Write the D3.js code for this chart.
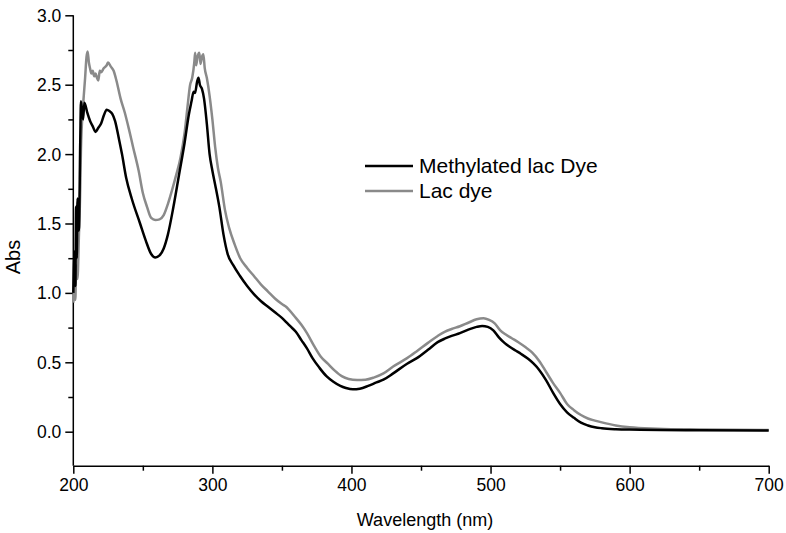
<!DOCTYPE html>
<html>
<head>
<meta charset="utf-8">
<script src="https://cdn.jsdelivr.net/npm/d3@7"></script>
<style>
  body { margin: 0; background: #fff; }
  svg { font-family: "Liberation Sans", Arial, sans-serif; }
</style>
</head>
<body>
<div id="chart"></div>
<script>
// methylated lac dye (black)
var wlMethyl = [200,201,201.5,202,202.5,203,204,205,205.5,207,208,210,212,214,216,218,220,222,224,226,228,230,233,235,238,242,248,252,256,259,262,265,268,272,276,280,283,285,286.5,287.5,289,290,291,292.5,294,296,298,300,302,305,308,311,315,320,325,330,335,340,345,350,354,356,360,364,368,372,377,382,387,392,396,401,406,412,418,423,430,440,447,455,462,467,472,478,484,490,494,498,502,506,510,514,518,522,527,531,535,540,545,550,555,560,565,570,575,580,590,600,650,700];
var absMethyl = [1.00,1.30,1.05,1.62,1.25,1.68,1.45,2.10,2.38,2.25,2.37,2.30,2.24,2.20,2.16,2.19,2.22,2.28,2.32,2.31,2.29,2.24,2.10,2.00,1.83,1.68,1.50,1.38,1.28,1.255,1.27,1.32,1.42,1.62,1.85,2.08,2.28,2.38,2.45,2.44,2.52,2.55,2.50,2.47,2.40,2.22,2.00,1.88,1.78,1.62,1.42,1.28,1.20,1.12,1.05,0.99,0.94,0.90,0.86,0.82,0.78,0.76,0.72,0.66,0.60,0.53,0.46,0.40,0.36,0.33,0.315,0.305,0.31,0.33,0.355,0.375,0.42,0.49,0.53,0.59,0.645,0.67,0.69,0.71,0.735,0.755,0.762,0.755,0.73,0.68,0.64,0.61,0.585,0.56,0.525,0.49,0.445,0.37,0.28,0.20,0.14,0.10,0.065,0.045,0.032,0.025,0.018,0.015,0.010,0.008];

// lac dye (grey)
var wlLac = [200,201,201.5,202,203,204,205,205.5,207,208.5,209.5,210.3,211.2,212,213,214,215,216,217,218,219,220,222,224,225,227,229,231,234,237,240,243,247,250,253,256,259,262,265,268,271,274,277,280,282,284,285.5,287,287.6,288.3,289.3,290.6,291.5,292.5,293.5,294.5,296,298,300,302,304,306,309,312,316,320,325,330,335,340,345,350,353,355,360,364,368,373,378,383,388,393,398,404,410,416,423,430,440,447,455,462,467,472,478,484,490,495,499,503,507,511,515,520,525,530,535,540,545,550,555,560,565,570,575,580,590,600,620,650,700];
var absLac = [0.93,1.05,0.95,1.20,1.10,1.40,1.75,2.03,2.34,2.55,2.70,2.74,2.66,2.62,2.58,2.60,2.56,2.58,2.55,2.53,2.60,2.59,2.62,2.64,2.66,2.63,2.60,2.53,2.40,2.30,2.18,2.05,1.88,1.72,1.62,1.54,1.525,1.53,1.56,1.64,1.74,1.85,1.97,2.15,2.33,2.50,2.55,2.66,2.73,2.64,2.70,2.73,2.65,2.70,2.72,2.62,2.55,2.42,2.25,2.05,1.90,1.80,1.60,1.47,1.35,1.25,1.18,1.12,1.06,1.01,0.96,0.92,0.90,0.88,0.82,0.77,0.71,0.62,0.54,0.49,0.44,0.40,0.38,0.373,0.375,0.39,0.42,0.47,0.53,0.58,0.64,0.69,0.72,0.74,0.76,0.785,0.81,0.817,0.805,0.78,0.73,0.70,0.675,0.645,0.61,0.57,0.51,0.43,0.35,0.28,0.20,0.155,0.12,0.095,0.08,0.067,0.045,0.032,0.022,0.016,0.012];

var xTicks = [200, 300, 400, 500, 600, 700];
var xMinor = [250, 350, 450, 550, 650];
var yTicks = [0, 0.5, 1.0, 1.5, 2.0, 2.5, 3.0];
var yMinor = [0.25, 0.75, 1.25, 1.75, 2.25, 2.75];

var seriesNames = ["Methylated lac Dye", "Lac dye"];
var seriesColors = ["#000000", "#8a8a8a"];

var W = 786, H = 533;
var svg = d3.select("#chart").append("svg")
  .attr("width", W)
  .attr("height", H);

var x = d3.scaleLinear().domain([200, 700]).range([73.3, 768.7]);
var y = d3.scaleLinear().domain([0, 3]).range([431.7, 15.3]);
var yBottom = 465.7;

// x axis
var xAxis = svg.append("g")
  .attr("transform", "translate(0," + yBottom + ")")
  .call(d3.axisBottom(x).tickValues(xTicks).tickFormat(d3.format("d")).tickSize(8).tickSizeOuter(0));
svg.append("g")
  .attr("transform", "translate(0," + yBottom + ")")
  .call(d3.axisBottom(x).tickValues(xMinor).tickFormat("").tickSize(5).tickSizeOuter(0))
  .select(".domain").remove();

// y axis
var yAxis = svg.append("g")
  .attr("transform", "translate(" + x(200) + ",0)")
  .call(d3.axisLeft(y).tickValues(yTicks).tickFormat(d3.format(".1f")).tickSize(8).tickSizeOuter(0));
svg.append("g")
  .attr("transform", "translate(" + x(200) + ",0)")
  .call(d3.axisLeft(y).tickValues(yMinor).tickFormat("").tickSize(5).tickSizeOuter(0))
  .select(".domain").remove();

// extend y axis line down to the x axis
yAxis.select(".domain").attr("d", "M0," + y(3) + "V" + yBottom);

svg.selectAll(".tick line").attr("stroke", "#000").attr("stroke-width", 1.5);
svg.selectAll(".domain").attr("stroke", "#000").attr("stroke-width", 1.5);
svg.selectAll(".tick text")
  .attr("font-size", 17.5)
  .attr("font-family", "'Liberation Sans', Arial, sans-serif")
  .attr("fill", "#000");
xAxis.selectAll(".tick text").attr("dy", "1.05em").attr("y", 7);
yAxis.selectAll(".tick text").attr("x", -12).attr("dy", "0.34em");

// axis titles
svg.append("text")
  .attr("x", 425)
  .attr("y", 526)
  .attr("text-anchor", "middle")
  .attr("font-size", 18)
  .text("Wavelength (nm)");

svg.append("text")
  .attr("transform", "translate(20,257) rotate(-90)")
  .attr("text-anchor", "middle")
  .attr("font-size", 20)
  .text("Abs");

// lines
var line = d3.line()
  .x(function(d) { return x(d[0]); })
  .y(function(d) { return y(d[1]); })
  .curve(d3.curveMonotoneX);

var lacData = wlLac.map(function(w, i) { return [w, absLac[i]]; });
var methylData = wlMethyl.map(function(w, i) { return [w, absMethyl[i]]; });

svg.append("path")
  .datum(lacData)
  .attr("fill", "none")
  .attr("stroke", seriesColors[1])
  .attr("stroke-width", 2.5)
  .attr("stroke-linejoin", "round")
  .attr("d", line);

svg.append("path")
  .datum(methylData)
  .attr("fill", "none")
  .attr("stroke", seriesColors[0])
  .attr("stroke-width", 2.5)
  .attr("stroke-linejoin", "round")
  .attr("d", line);

// legend
var legend = svg.append("g").attr("transform", "translate(365,166)");
seriesNames.forEach(function(name, i) {
  var row = legend.append("g").attr("transform", "translate(0," + (i * 25) + ")");
  row.append("line")
    .attr("x1", 0).attr("x2", 48)
    .attr("y1", 0).attr("y2", 0)
    .attr("stroke", seriesColors[i])
    .attr("stroke-width", 2.5);
  row.append("text")
    .attr("x", 54)
    .attr("y", 7)
    .attr("font-size", 21)
    .text(name);
});
</script>
</body>
</html>
